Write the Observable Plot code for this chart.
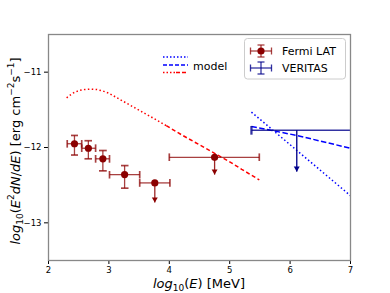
<!DOCTYPE html>
<html><head><meta charset="utf-8">
<script src="https://cdn.jsdelivr.net/npm/d3@7"></script>
<script src="https://cdn.jsdelivr.net/npm/@observablehq/plot@0.6"></script>
<style>
body{margin:0;background:#fff;}
#wrap{position:relative;width:390px;height:293px;font-family:"DejaVu Sans",sans-serif;color:#000;}
#wrap svg{display:block;}
.lab{position:absolute;white-space:nowrap;font-size:13px;line-height:1;}
.lab sub,.lab sup{font-size:9px;line-height:0;}
.lab sub{vertical-align:-3px;}
.lab sup{vertical-align:6px;}
#ylab{left:15px;top:151px;transform:translate(-50%,-50%) rotate(-90deg);}
#xlab{left:199px;top:283px;transform:translate(-50%,-50%);}
#overlay{position:absolute;left:0;top:0;pointer-events:none;}
</style></head><body>
<div id="wrap">
  <div id="ylab" class="lab"><i>log</i><sub>10</sub>(<i>E</i><sup>2</sup><i>dN</i>/<i>dE</i>) [erg cm<sup>−2</sup>s<sup>−1</sup>]</div>
  <div id="xlab" class="lab"><i>log</i><sub>10</sub>(<i>E</i>) [MeV]</div>
</div>
<script>
// ---- data ----
const xTicks = [2, 3, 4, 5, 6, 7];
const yTicks = [-13, -12, -11];

// Fermi LAT
const fermiE    = [2.43, 2.66, 2.90, 3.26, 3.76, 4.75];
const fermiF    = [-11.95, -12.01, -12.15, -12.36, -12.47, -12.13];
const fermiELo  = [2.31, 2.55, 2.78, 3.01, 3.51, 4.00];
const fermiEHi  = [2.55, 2.78, 3.01, 3.51, 4.01, 5.49];
const fermiFLo  = [-12.10, -12.15, -12.31, -12.54, null, null];
const fermiFHi  = [-11.84, -11.91, -12.04, -12.24, null, null];
const fermiULto = [null, null, null, null, -12.73, -12.36];

// VERITAS (upper limit)
const veritasE = [6.11];
const veritasF = [-11.77];
const veritasELo = [5.36];
const veritasEHi = [7.0];
const veritasULto = [-12.32];

// models
const modelRedE = [2.3,2.4,2.5,2.6,2.7,2.8,2.9,3.0,3.2,3.4,3.6,3.8,3.95,4.2,4.4,4.6,4.8,5.0,5.2,5.49];
const modelRedF = [-11.34,-11.28,-11.245,-11.23,-11.225,-11.23,-11.25,-11.28,-11.37,-11.46,-11.55,-11.64,-11.71,-11.83,-11.92,-12.01,-12.10,-12.19,-12.29,-12.43];
const redSplitE = 3.95;
const modelBlueDotE = [5.36, 7.0];
const modelBlueDotF = [-11.53, -12.64];
const modelBlueDashE = [5.36, 6.11, 7.0];
const modelBlueDashF = [-11.72, -11.84, -12.01];

// ---- tables ----
const fermi = fermiE.map((e, i) => ({e, f: fermiF[i], elo: fermiELo[i], ehi: fermiEHi[i], flo: fermiFLo[i], fhi: fermiFHi[i], ul: fermiULto[i]}));
const fermiErr = fermi.filter(d => d.flo != null);
const fermiUL = fermi.filter(d => d.ul != null);
const veritas = veritasE.map((e, i) => ({e, f: veritasF[i], elo: veritasELo[i], ehi: veritasEHi[i], ul: veritasULto[i]}));
const red = modelRedE.map((e, i) => ({e, f: modelRedF[i]}));
const blueDot = modelBlueDotE.map((e, i) => ({e, f: modelBlueDotF[i]}));
const blueDash = modelBlueDashE.map((e, i) => ({e, f: modelBlueDashF[i]}));

const FERMI = "#8b0000", VER = "#00008b";
const minus = d => String(d).replace("-", "\u2212");
const lineOpts = {x: "e", y: "f", strokeWidth: 1.5, strokeLinecap: "butt", strokeLinejoin: "miter", clip: true};

const chart = Plot.plot({
  width: 390, height: 293,
  marginLeft: 48, marginRight: 40, marginTop: 34, marginBottom: 33,
  style: {fontFamily: "DejaVu Sans, sans-serif", fontSize: "8.5px", color: "#000", background: "transparent"},
  x: {domain: [2, 7], ticks: xTicks, tickSize: 4, tickPadding: 2, label: null, tickFormat: minus},
  y: {domain: [-13.5, -10.5], ticks: yTicks, tickSize: 4, tickPadding: 3, label: null, tickFormat: minus},
  marks: [
    // models
    Plot.line(red.filter(d => d.e <= redSplitE), {...lineOpts, stroke: "red", strokeDasharray: "1.5,2.4"}),
    Plot.line(red.filter(d => d.e >= redSplitE), {...lineOpts, stroke: "red", strokeDasharray: "4,2.6"}),
    Plot.line(blueDot, {...lineOpts, stroke: "blue", strokeDasharray: "1.5,2.4"}),
    Plot.line(blueDash, {...lineOpts, stroke: "blue", strokeDasharray: "5.5,2.4"}),
    // Fermi error bars
    Plot.link(fermi, {x1: "elo", x2: "ehi", y1: "f", y2: "f", stroke: FERMI, strokeOpacity: 0.75, strokeWidth: 1.3, markerStart: "tick", markerEnd: "tick"}),
    Plot.link(fermiErr, {x1: "e", x2: "e", y1: "flo", y2: "fhi", stroke: FERMI, strokeOpacity: 0.75, strokeWidth: 1.3, markerStart: "tick", markerEnd: "tick"}),
    Plot.link(fermiUL, {x1: "e", x2: "e", y1: "f", y2: "ul", stroke: FERMI, strokeOpacity: 0.85, strokeWidth: 1.3}),
    Plot.dot(fermiUL, {x: "e", y: "ul", symbol: "triangle", r: 2.2, rotate: 180, dy: -3.4, fill: FERMI, stroke: "none"}),
    Plot.dot(fermi, {x: "e", y: "f", r: 3.6, fill: FERMI, stroke: "none"}),
    // VERITAS
    Plot.link(veritas, {x1: "elo", x2: "ehi", y1: "f", y2: "f", stroke: VER, strokeOpacity: 0.8, strokeWidth: 1.5, markerStart: "tick"}),
    Plot.link(veritas, {x1: "e", x2: "e", y1: "f", y2: "ul", stroke: VER, strokeOpacity: 0.9, strokeWidth: 1.5}),
    Plot.dot(veritas, {x: "e", y: "ul", symbol: "triangle", r: 2.2, rotate: 180, dy: -3.4, fill: VER, stroke: "none"}),
    Plot.frame({stroke: "#888", strokeWidth: 1.3})
  ]
});
document.getElementById("wrap").prepend(chart);

// legend overlay
const ns = "http://www.w3.org/2000/svg";
const ov = document.createElementNS(ns, "svg");
ov.setAttribute("id", "overlay");
ov.setAttribute("width", 390); ov.setAttribute("height", 293);
ov.innerHTML = `
  <g font-family="DejaVu Sans, sans-serif" font-size="11px" fill="#000">
    <line x1="163" x2="188" y1="57" y2="57" stroke="blue" stroke-width="1.5" stroke-dasharray="1.5,2"/>
    <line x1="163" x2="188" y1="65" y2="65" stroke="blue" stroke-width="1.5" stroke-dasharray="4,2"/>
    <line x1="163" x2="175" y1="72.5" y2="72.5" stroke="red" stroke-width="1.5" stroke-dasharray="1.5,2"/>
    <line x1="176" x2="188" y1="72.5" y2="72.5" stroke="red" stroke-width="1.5" stroke-dasharray="4,2"/>
    <text x="193" y="66" dy="0.35em">model</text>
    <rect x="244.5" y="38.5" width="101" height="40.5" rx="3" fill="rgba(255,255,255,0.8)" stroke="#ccc" stroke-width="1"/>
    <g stroke="${FERMI}" stroke-opacity="0.75" stroke-width="1.3">
      <line x1="250.5" x2="271.5" y1="51" y2="51"/>
      <line x1="250.5" x2="250.5" y1="47.5" y2="54.5"/>
      <line x1="271.5" x2="271.5" y1="47.5" y2="54.5"/>
      <line x1="261" x2="261" y1="45" y2="57"/>
      <line x1="257.5" x2="264.5" y1="45" y2="45"/>
      <line x1="257.5" x2="264.5" y1="57" y2="57"/>
    </g>
    <circle cx="261" cy="51" r="3.6" fill="${FERMI}"/>
    <g stroke="${VER}" stroke-opacity="0.8" stroke-width="1.3">
      <line x1="250.5" x2="271.5" y1="68" y2="68"/>
      <line x1="250.5" x2="250.5" y1="64.5" y2="71.5"/>
      <line x1="271.5" x2="271.5" y1="64.5" y2="71.5"/>
      <line x1="261" x2="261" y1="62" y2="74"/>
      <line x1="257.5" x2="264.5" y1="62" y2="62"/>
      <line x1="257.5" x2="264.5" y1="74" y2="74"/>
    </g>
    <text x="282" y="51" dy="0.35em">Fermi LAT</text>
    <text x="282" y="68" dy="0.35em">VERITAS</text>
  </g>`;
document.getElementById("wrap").appendChild(ov);
</script>
</body></html>
